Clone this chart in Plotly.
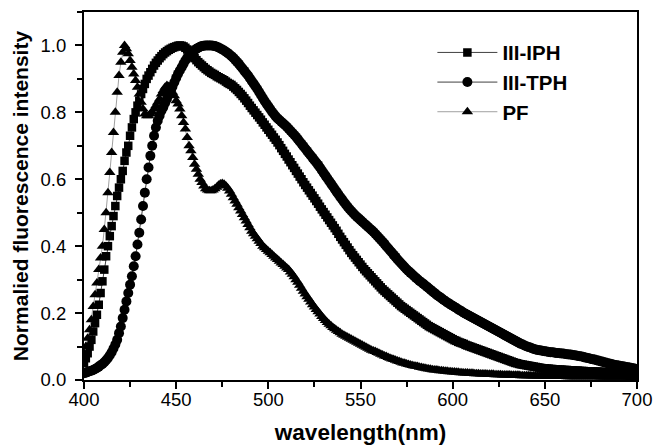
import plotly.graph_objects as go

wavelength = list(range(400, 701))

iph = [
    0.05, 0.065, 0.08, 0.10, 0.12, 0.145, 0.17, 0.195, 0.225, 0.26,
    0.295, 0.33, 0.37, 0.40, 0.43, 0.46, 0.49, 0.52, 0.55, 0.575,
    0.60, 0.625, 0.655, 0.68, 0.70, 0.73, 0.755, 0.78, 0.80, 0.82,
    0.835, 0.855, 0.87, 0.885, 0.90, 0.91, 0.92, 0.93, 0.94, 0.948,
    0.955, 0.962, 0.968, 0.974, 0.979, 0.983, 0.987, 0.99, 0.993, 0.995,
    0.997, 0.999, 1.00, 0.999, 0.997, 0.993, 0.988, 0.982, 0.975, 0.968,
    0.962, 0.956, 0.95, 0.945, 0.94, 0.935, 0.93, 0.926, 0.922, 0.918,
    0.915, 0.912, 0.908, 0.905, 0.902, 0.899, 0.896, 0.892, 0.888, 0.885,
    0.882, 0.877, 0.872, 0.867, 0.861, 0.855, 0.849, 0.842, 0.835, 0.828,
    0.82, 0.813, 0.806, 0.799, 0.792, 0.785, 0.778, 0.77, 0.763, 0.755,
    0.748, 0.74, 0.733, 0.725, 0.718, 0.71, 0.702, 0.693, 0.685, 0.676,
    0.668, 0.659, 0.651, 0.642, 0.634, 0.625, 0.617, 0.608, 0.60, 0.591,
    0.583, 0.575, 0.567, 0.559, 0.551, 0.543, 0.535, 0.527, 0.518, 0.51,
    0.502, 0.494, 0.486, 0.478, 0.47, 0.462, 0.454, 0.446, 0.437, 0.428,
    0.42, 0.412, 0.404, 0.396, 0.388, 0.38, 0.373, 0.366, 0.359, 0.352,
    0.345, 0.338, 0.331, 0.325, 0.319, 0.313, 0.307, 0.301, 0.295, 0.289,
    0.283, 0.277, 0.271, 0.266, 0.261, 0.256, 0.251, 0.246, 0.241, 0.236,
    0.231, 0.226, 0.221, 0.217, 0.213, 0.209, 0.205, 0.201, 0.197, 0.193,
    0.189, 0.185, 0.181, 0.177, 0.173, 0.169, 0.165, 0.161, 0.158, 0.155,
    0.152, 0.149, 0.146, 0.143, 0.14, 0.137, 0.134, 0.131, 0.128, 0.125,
    0.122, 0.119, 0.117, 0.114, 0.112, 0.11, 0.108, 0.105, 0.103, 0.101,
    0.099, 0.097, 0.095, 0.093, 0.091, 0.089, 0.087, 0.085, 0.083, 0.081,
    0.079, 0.077, 0.075, 0.073, 0.071, 0.069, 0.067, 0.065, 0.063, 0.061,
    0.059, 0.057, 0.055, 0.053, 0.051, 0.05, 0.048, 0.047, 0.046, 0.045,
    0.044, 0.043, 0.042, 0.041, 0.04, 0.039, 0.038, 0.037, 0.036, 0.035,
    0.035, 0.034, 0.034, 0.033, 0.033, 0.032, 0.032, 0.031, 0.031, 0.031,
    0.03, 0.03, 0.03, 0.029, 0.029, 0.029, 0.028, 0.028, 0.028, 0.027,
    0.027, 0.027, 0.026, 0.026, 0.026, 0.026, 0.025, 0.025, 0.025, 0.025,
    0.024, 0.024, 0.024, 0.024, 0.023, 0.023, 0.023, 0.023, 0.023, 0.022,
    0.022, 0.022, 0.022, 0.022, 0.021, 0.021, 0.021, 0.021, 0.021, 0.02,
    0.02,
]

tph = [
    0.02, 0.022, 0.024, 0.026, 0.028, 0.03, 0.033, 0.036, 0.04, 0.044,
    0.048, 0.053, 0.059, 0.066, 0.074, 0.083, 0.094, 0.106, 0.12, 0.14,
    0.16, 0.185, 0.21, 0.235, 0.26, 0.285, 0.31, 0.34, 0.37, 0.405,
    0.44, 0.48, 0.52, 0.56, 0.60, 0.635, 0.67, 0.70, 0.73, 0.755,
    0.775, 0.79, 0.805, 0.815, 0.828, 0.84, 0.853, 0.865, 0.877, 0.89,
    0.903, 0.915, 0.925, 0.935, 0.945, 0.955, 0.963, 0.97, 0.976, 0.982,
    0.986, 0.99, 0.993, 0.996, 0.998, 0.999, 1.0, 1.0, 1.0, 1.0,
    0.999, 0.998, 0.996, 0.994, 0.991, 0.988, 0.985, 0.981, 0.977, 0.973,
    0.968, 0.963, 0.957, 0.951, 0.945, 0.938, 0.931, 0.924, 0.917, 0.91,
    0.902, 0.894, 0.886, 0.878, 0.87, 0.861, 0.852, 0.843, 0.834, 0.826,
    0.818, 0.81, 0.802, 0.795, 0.788, 0.782, 0.777, 0.772, 0.767, 0.762,
    0.757, 0.751, 0.745, 0.739, 0.733, 0.727, 0.72, 0.713, 0.706, 0.699,
    0.692, 0.685, 0.678, 0.671, 0.664, 0.657, 0.65, 0.643, 0.635, 0.627,
    0.619, 0.611, 0.603, 0.595, 0.587, 0.579, 0.571, 0.563, 0.555, 0.547,
    0.54, 0.532, 0.525, 0.518, 0.511, 0.505, 0.499, 0.493, 0.488, 0.483,
    0.478, 0.473, 0.468, 0.463, 0.458, 0.453, 0.448, 0.443, 0.437, 0.431,
    0.425, 0.419, 0.413, 0.407, 0.40, 0.394, 0.387, 0.381, 0.374, 0.368,
    0.361, 0.355, 0.349, 0.343, 0.337, 0.331, 0.326, 0.321, 0.316, 0.311,
    0.306, 0.301, 0.296, 0.292, 0.288, 0.283, 0.279, 0.274, 0.27, 0.265,
    0.261, 0.256, 0.252, 0.248, 0.244, 0.24, 0.236, 0.232, 0.229, 0.225,
    0.222, 0.218, 0.215, 0.211, 0.208, 0.205, 0.201, 0.198, 0.195, 0.192,
    0.189, 0.186, 0.183, 0.18, 0.177, 0.174, 0.171, 0.168, 0.165, 0.162,
    0.159, 0.156, 0.153, 0.15, 0.147, 0.144, 0.141, 0.138, 0.135, 0.132,
    0.129, 0.126, 0.123, 0.12, 0.117, 0.114, 0.111, 0.108, 0.106, 0.103,
    0.101, 0.099, 0.097, 0.095, 0.093, 0.091, 0.09, 0.089, 0.088, 0.087,
    0.086, 0.085, 0.084, 0.083, 0.083, 0.082, 0.081, 0.081, 0.08, 0.079,
    0.079, 0.078, 0.077, 0.076, 0.076, 0.075, 0.074, 0.073, 0.072, 0.071,
    0.07, 0.069, 0.067, 0.066, 0.065, 0.063, 0.062, 0.061, 0.059, 0.058,
    0.056, 0.055, 0.053, 0.052, 0.05, 0.049, 0.048, 0.046, 0.045, 0.044,
    0.043, 0.042, 0.041, 0.04, 0.039, 0.038, 0.037, 0.036, 0.035, 0.034,
    0.033,
]

pf = [
    0.08, 0.10, 0.125, 0.15, 0.18, 0.22, 0.255, 0.29, 0.33, 0.365,
    0.40, 0.45, 0.50, 0.56, 0.62, 0.68, 0.74, 0.80, 0.86, 0.91,
    0.95, 0.98, 1.00, 0.99, 0.975, 0.955, 0.935, 0.915, 0.895, 0.875,
    0.855, 0.83, 0.81, 0.795, 0.79, 0.79, 0.795, 0.80, 0.81, 0.82,
    0.83, 0.84, 0.855, 0.865, 0.875, 0.88, 0.877, 0.87, 0.86, 0.85,
    0.835, 0.825, 0.81, 0.79, 0.77, 0.75, 0.725, 0.70, 0.685, 0.665,
    0.645, 0.63, 0.615, 0.60, 0.59, 0.58, 0.572, 0.568, 0.566, 0.566,
    0.568, 0.572, 0.576, 0.582, 0.586, 0.587, 0.585, 0.58, 0.573, 0.565,
    0.555, 0.545, 0.535, 0.525, 0.515, 0.505, 0.495, 0.485, 0.475, 0.465,
    0.455, 0.445, 0.437, 0.43, 0.422, 0.415, 0.408, 0.40, 0.395, 0.39,
    0.385, 0.38, 0.375, 0.37, 0.365, 0.36, 0.355, 0.35, 0.345, 0.34,
    0.335, 0.33, 0.323, 0.316, 0.309, 0.30, 0.292, 0.283, 0.274, 0.265,
    0.257, 0.249, 0.241, 0.233, 0.225, 0.218, 0.211, 0.204, 0.197, 0.19,
    0.184, 0.178, 0.172, 0.167, 0.162, 0.157, 0.153, 0.149, 0.145, 0.141,
    0.137, 0.134, 0.131, 0.128, 0.125, 0.122, 0.119, 0.116, 0.113, 0.11,
    0.107, 0.104, 0.101, 0.098, 0.095, 0.092, 0.089, 0.087, 0.085, 0.082,
    0.08, 0.077, 0.075, 0.072, 0.07, 0.067, 0.065, 0.063, 0.061, 0.059,
    0.057, 0.055, 0.053, 0.051, 0.05, 0.048, 0.046, 0.045, 0.043, 0.042,
    0.041, 0.04, 0.038, 0.037, 0.036, 0.035, 0.034, 0.033, 0.032, 0.031,
    0.03, 0.03, 0.029, 0.028, 0.028, 0.027, 0.026, 0.026, 0.025, 0.025,
    0.024, 0.024, 0.023, 0.023, 0.022, 0.022, 0.021, 0.021, 0.021, 0.02,
    0.02, 0.02, 0.019, 0.019, 0.019, 0.018, 0.018, 0.018, 0.018, 0.017,
    0.017, 0.017, 0.017, 0.016, 0.016, 0.016, 0.016, 0.015, 0.015, 0.015,
    0.015, 0.015, 0.014, 0.014, 0.014, 0.014, 0.014, 0.013, 0.013, 0.013,
    0.013, 0.013, 0.013, 0.012, 0.012, 0.012, 0.012, 0.012, 0.012, 0.011,
    0.011, 0.011, 0.011, 0.011, 0.011, 0.011, 0.011, 0.011, 0.011, 0.011,
    0.011, 0.011, 0.01, 0.01, 0.01, 0.01, 0.01, 0.01, 0.01, 0.01,
    0.01, 0.01, 0.01, 0.01, 0.01, 0.01, 0.01, 0.01, 0.01, 0.01,
    0.009, 0.009, 0.009, 0.009, 0.009, 0.009, 0.009, 0.009, 0.009, 0.009,
    0.009, 0.009, 0.009, 0.009, 0.009, 0.009, 0.008, 0.008, 0.008, 0.008,
    0.008,
]

series = [
    ('III-IPH', iph, 'square', 8.5, '#404040'),
    ('III-TPH', tph, 'circle', 10, '#404040'),
    ('PF', pf, 'triangle-up', 10, '#a0a0a0'),
]

font = 'Liberation Sans, Arial, sans-serif'

fig = go.Figure()

for name, values, symbol, size, line_color in series:
    fig.add_trace(go.Scatter(
        x=wavelength,
        y=values,
        mode='lines+markers',
        name=name,
        line=dict(color=line_color, width=1),
        marker=dict(symbol=symbol, size=size, color='black', line=dict(width=0))
    ))

fig.update_layout(
    width=655,
    height=445,
    margin=dict(l=84, r=18, t=12, b=65),
    plot_bgcolor='white',
    paper_bgcolor='white',
    font=dict(family=font, size=18.5, color='black'),
    legend=dict(
        x=0.63,
        y=0.944,
        xanchor='left',
        yanchor='top',
        bgcolor='rgba(0,0,0,0)',
        font=dict(family=font, size=20.5, color='black', weight='bold'),
        itemwidth=60,
        tracegroupgap=0
    ),
    xaxis=dict(
        range=[400, 700],
        tickvals=[400, 450, 500, 550, 600, 650, 700],
        ticks='outside',
        ticklen=7,
        tickwidth=1.5,
        tickcolor='black',
        ticklabelstandoff=-5,
        minor=dict(dtick=25, ticks='outside', ticklen=5, tickwidth=1.5, tickcolor='black'),
        showline=True,
        linewidth=2,
        linecolor='black',
        mirror=True,
        showgrid=False,
        zeroline=False,
        automargin=False,
        title=dict(text='wavelength(nm)', font=dict(family=font, size=22.5, weight='bold'), standoff=17)
    ),
    yaxis=dict(
        range=[0, 1.1],
        tickvals=[0.0, 0.2, 0.4, 0.6, 0.8, 1.0],
        tickformat='.1f',
        ticks='outside',
        ticklen=7,
        tickwidth=1.5,
        tickcolor='black',
        ticklabelstandoff=5,
        minor=dict(dtick=0.1, ticks='outside', ticklen=5, tickwidth=1.5, tickcolor='black'),
        showline=True,
        linewidth=2,
        linecolor='black',
        mirror=True,
        showgrid=False,
        zeroline=False,
        automargin=False,
        title=dict(text='Normalied fluorescence intensity', font=dict(family=font, size=21, weight='bold'), standoff=6)
    )
)

fig.write_html(
    'out.html',
    config={'displayModeBar': False},
    post_script="document.body.style.margin='0px';"
)
